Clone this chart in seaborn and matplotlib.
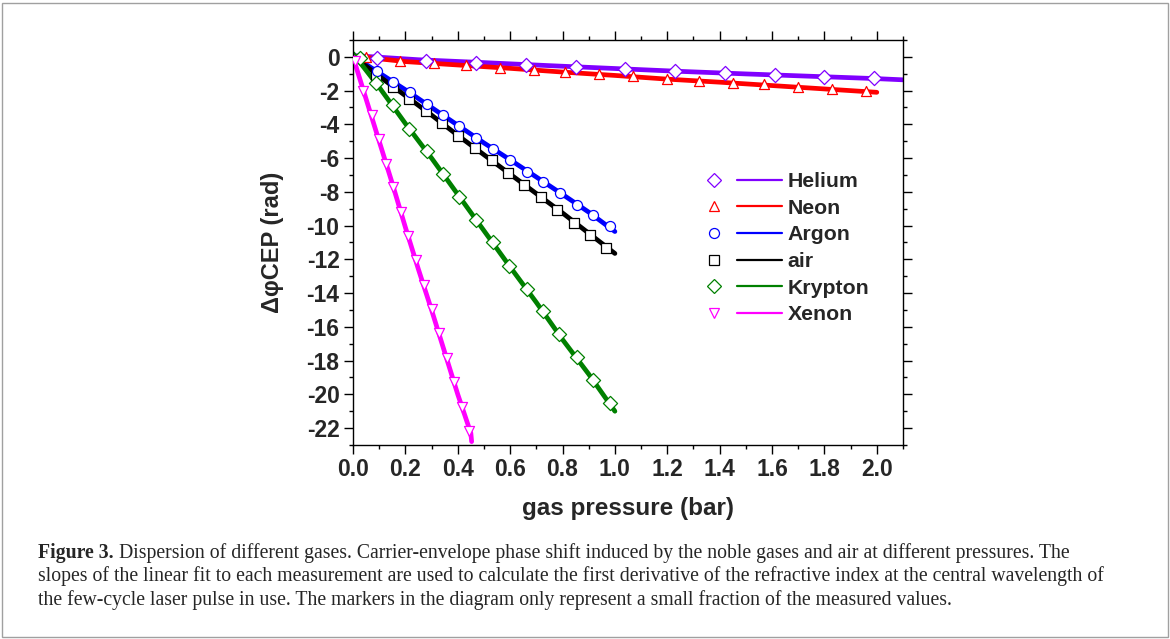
import matplotlib
matplotlib.use("Agg")
import matplotlib.pyplot as plt
import seaborn as sns
from matplotlib.lines import Line2D
from matplotlib.legend_handler import HandlerTuple
from matplotlib.patches import Rectangle
from matplotlib.ticker import MultipleLocator

# gases, colours and markers
gases = ["Helium", "Neon", "Argon", "air", "Krypton", "Xenon"]
colors = ["#8000FF", "#FF0000", "#0000FF", "#000000", "#008000", "#FF00FF"]
symbols = ["D", "^", "o", "s", "D", "v"]

# traces (pressure in bar, phase shift in rad)
helium_x = [0.0, 0.25, 0.5, 0.75, 1.0, 1.25, 1.5, 1.75, 2.0, 2.1]
helium_y = [0.08, -0.17, -0.34, -0.52, -0.69, -0.86, -1.01, -1.15, -1.29, -1.36]
neon_x = [0.0, 0.2, 0.4, 0.6, 0.8, 1.0, 1.2, 1.4, 1.6, 1.8, 2.0]
neon_y = [0.05, -0.28, -0.48, -0.68, -0.9, -1.1, -1.32, -1.5, -1.7, -1.9, -2.1]
argon_x = [0.0, 0.1, 0.2, 0.3, 0.4, 0.5, 0.6, 0.7, 0.8, 0.9, 1.0]
argon_y = [0.05, -0.95, -1.95, -3.0, -4.05, -5.1, -6.1, -7.12, -8.15, -9.2, -10.35]
air_x = [0.0, 0.1, 0.2, 0.3, 0.4, 0.5, 0.6, 0.7, 0.8, 0.9, 1.0]
air_y = [0.05, -1.15, -2.3, -3.45, -4.65, -5.8, -6.95, -8.1, -9.25, -10.45, -11.65]
krypton_x = [0.0, 0.1, 0.2, 0.3, 0.4, 0.5, 0.6, 0.7, 0.8, 0.9, 1.0]
krypton_y = [0.2, -1.8, -3.95, -6.0, -8.15, -10.3, -12.45, -14.55, -16.75, -18.8, -21.0]
xenon_x = [0.0, 0.05, 0.1, 0.15, 0.2, 0.25, 0.3, 0.35, 0.4, 0.45, 0.453]
xenon_y = [0.0, -2.5, -5.0, -7.5, -10.1, -12.6, -15.0, -17.5, -20.0, -22.3, -22.8]

# the few measured values shown as markers
helium_mx = [0.09, 0.28, 0.47, 0.66, 0.85, 1.04, 1.23, 1.42, 1.61, 1.80, 1.99]
helium_my = [-0.08, -0.22, -0.34, -0.47, -0.58, -0.72, -0.84, -0.96, -1.08, -1.18, -1.28]
neon_mx = [0.05, 0.18, 0.31, 0.43, 0.56, 0.69, 0.81, 0.94, 1.07, 1.20, 1.32, 1.45, 1.57, 1.70, 1.83, 1.96]
neon_my = [0.0, -0.22, -0.38, -0.48, -0.63, -0.76, -0.9, -1.0, -1.12, -1.3, -1.42, -1.52, -1.62, -1.77, -1.9, -2.02]
argon_mx = [0.09, 0.154, 0.218, 0.281, 0.345, 0.406, 0.47, 0.536, 0.60, 0.663, 0.727, 0.791, 0.854, 0.918, 0.982]
argon_my = [-0.83, -1.46, -2.11, -2.80, -3.43, -4.10, -4.80, -5.46, -6.11, -6.80, -7.40, -8.08, -8.75, -9.40, -10.05]
air_mx = [0.089, 0.152, 0.215, 0.279, 0.340, 0.402, 0.466, 0.530, 0.593, 0.653, 0.717, 0.780, 0.844, 0.905, 0.966]
air_my = [-1.05, -1.77, -2.50, -3.23, -3.90, -4.69, -5.40, -6.11, -6.90, -7.62, -8.31, -9.10, -9.85, -10.58, -11.31]
krypton_mx = [0.027, 0.088, 0.152, 0.215, 0.281, 0.342, 0.406, 0.470, 0.534, 0.597, 0.663, 0.725, 0.788, 0.854, 0.918, 0.982]
krypton_my = [-0.08, -1.52, -2.86, -4.27, -5.56, -6.93, -8.31, -9.69, -10.97, -12.41, -13.73, -15.04, -16.43, -17.81, -19.15, -20.49]
xenon_mx = [0.008, 0.039, 0.071, 0.100, 0.126, 0.154, 0.182, 0.211, 0.241, 0.271, 0.301, 0.327, 0.358, 0.387, 0.415, 0.444]
xenon_my = [-0.24, -2.01, -3.43, -4.87, -6.34, -7.72, -9.20, -10.64, -12.06, -13.53, -14.94, -16.39, -17.87, -19.25, -20.73, -22.15]

lines = [(helium_x, helium_y), (neon_x, neon_y), (argon_x, argon_y),
         (air_x, air_y), (krypton_x, krypton_y), (xenon_x, xenon_y)]
marks = [(helium_mx, helium_my), (neon_mx, neon_my), (argon_mx, argon_my),
         (air_mx, air_my), (krypton_mx, krypton_my), (xenon_mx, xenon_my)]

caption_bold = "Figure 3."
caption_lines = [
    " Dispersion of different gases. Carrier-envelope phase shift induced by the noble gases and air at different pressures. The",
    "slopes of the linear fit to each measurement are used to calculate the first derivative of the refractive index at the central wavelength of",
    "the few-cycle laser pulse in use. The markers in the diagram only represent a small fraction of the measured values.",
]

sns.set_theme(style="ticks")
plt.rcParams["font.family"] = ["Liberation Sans", "DejaVu Sans"]
plt.rcParams["axes.unicode_minus"] = False

fig = plt.figure(figsize=(11.7, 6.39), dpi=100)
ax = fig.add_axes([353 / 1170, 1 - 445 / 639, 550 / 1170, 405 / 639])

# order so that helium is drawn over neon like in the original
order = [1, 0, 3, 2, 4, 5]
for i in order:
    lx, ly = lines[i]
    sns.lineplot(x=lx, y=ly, color=colors[i], linewidth=3.4, sort=False, ax=ax, zorder=2 + i * 0.1)
for i in order:
    mx, my = marks[i]
    sns.scatterplot(x=mx, y=my, marker=symbols[i], s=52, facecolor="white",
                    edgecolor=colors[i], linewidth=0.9, ax=ax, zorder=5)

ax.set_xlim(0, 2.1)
ax.set_ylim(-23, 1)
ax.xaxis.set_major_locator(MultipleLocator(0.2))
ax.xaxis.set_minor_locator(MultipleLocator(0.1))
ax.yaxis.set_major_locator(MultipleLocator(2))
ax.yaxis.set_minor_locator(MultipleLocator(1))
ax.xaxis.set_major_formatter(plt.FuncFormatter(lambda v, p: f"{v:.1f}"))
ax.yaxis.set_major_formatter(plt.FuncFormatter(lambda v, p: f"{v:.0f}"))
ax.tick_params(which="both", direction="out", top=True, right=True, color="black", width=1.0)
ax.tick_params(which="major", length=6.7, labelsize=16.5, pad=3)
ax.tick_params(which="minor", length=3.2)
for lab in ax.get_xticklabels() + ax.get_yticklabels():
    lab.set_fontweight("bold")
for sp in ax.spines.values():
    sp.set_linewidth(1.0)
    sp.set_color("black")

ax.set_xlabel("gas pressure (bar)", fontsize=17.5, fontweight="bold", labelpad=11)
ax.set_ylabel("Δ\u03c6CEP (rad)", fontsize=17, fontweight="bold", labelpad=16)

# legend: marker, short line, label
handles = []
for c, m in zip(colors, symbols):
    mk = Line2D([], [], marker=m, linestyle="none", markerfacecolor="white",
                markeredgecolor=c, markersize=7.2, markeredgewidth=0.9)
    ln = Line2D([], [], color=c, linewidth=1.6)
    handles.append((mk, ln))
leg = ax.legend(handles, gases, handler_map={tuple: HandlerTuple(ndivide=None, pad=0)},
                loc="upper left", bbox_to_anchor=(692 / 1170, 1 - 172 / 639),
                bbox_transform=fig.transFigure, frameon=False, handlelength=4.23,
                handletextpad=0.28, labelspacing=0.36, borderpad=0, borderaxespad=0,
                prop={"size": 15.3, "weight": "bold"})

# caption below the chart
renderer = fig.canvas.get_renderer()
y0 = 1 - 553 / 639
dy = 23.5 / 639
serif = ["Liberation Serif", "DejaVu Serif"]
tb = fig.text(38 / 1170, y0, caption_bold, fontsize=14.2, fontweight="bold",
              family=serif, va="center", ha="left")
bb = tb.get_window_extent(renderer)
fig.text(bb.x1 / 1170, y0, caption_lines[0], fontsize=14.2, family=serif, va="center", ha="left")
fig.text(38 / 1170, y0 - dy, caption_lines[1], fontsize=14.2, family=serif, va="center", ha="left")
fig.text(38 / 1170, y0 - 2 * dy, caption_lines[2], fontsize=14.2, family=serif, va="center", ha="left")

fig.patches.append(Rectangle((1.5 / 1170, 2 / 639), 1166 / 1170, 634 / 639, transform=fig.transFigure,
                             fill=False, edgecolor="#a0a0a0", linewidth=1.0))

fig.savefig("out.png", dpi=100)
